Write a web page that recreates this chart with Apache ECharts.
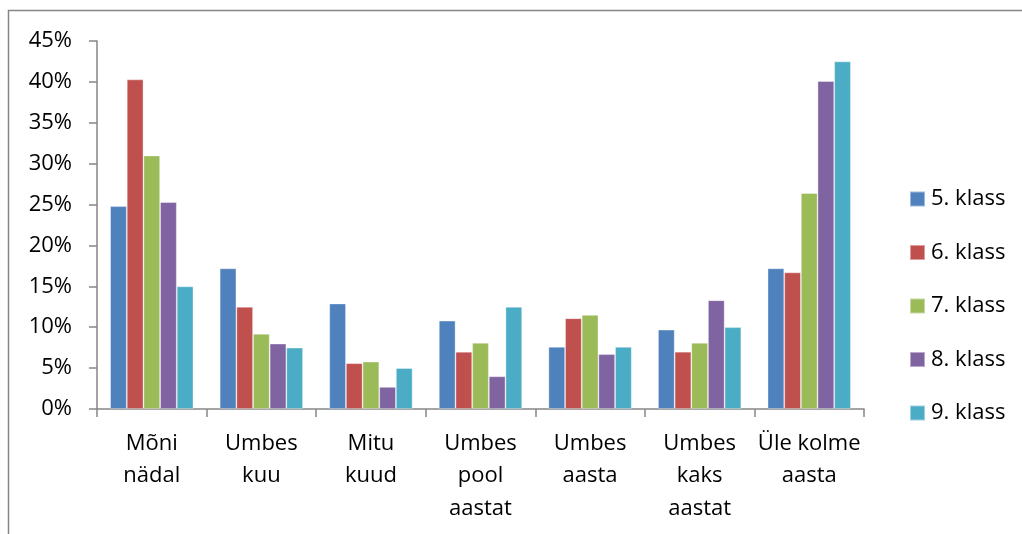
<!DOCTYPE html>
<html>
<head>
<meta charset="utf-8">
<script src="https://cdn.jsdelivr.net/npm/echarts@6/dist/echarts.min.js"></script>
<style>
html,body{margin:0;padding:0;background:#fff;}
#c{width:1022px;height:534px;}
</style>
</head>
<body>
<div id="c"></div>
<script>
const categories = ["Mõni\nnädal", "Umbes\nkuu", "Mitu\nkuud", "Umbes\npool\naastat", "Umbes\naasta", "Umbes\nkaks\naastat", "Üle kolme\naasta"];
const seriesNames = ["5. klass", "6. klass", "7. klass", "8. klass", "9. klass"];
const klass5 = [24.8, 17.2, 12.9, 10.8, 7.6, 9.7, 17.2];
const klass6 = [40.3, 12.5, 5.6, 7.0, 11.1, 7.0, 16.7];
const klass7 = [31.0, 9.2, 5.8, 8.1, 11.5, 8.1, 26.4];
const klass8 = [25.3, 8.0, 2.7, 4.0, 6.7, 13.3, 40.1];
const klass9 = [15.0, 7.5, 5.0, 12.5, 7.6, 10.0, 42.5];
const yTicks = [0, 5, 10, 15, 20, 25, 30, 35, 40, 45];

const values = [klass5, klass6, klass7, klass8, klass9];
const colors = ["#4F81BD", "#C0504D", "#9BBB59", "#8064A2", "#4BACC6"];
const font = "'Open Sans', sans-serif";

const chart = echarts.init(document.getElementById('c'));
chart.setOption({
  animation: false,
  backgroundColor: '#fff',
  graphic: [{
    type: 'rect',
    shape: {x: 8.5, y: 10.5, width: 1100, height: 600},
    style: {fill: 'none', stroke: '#868686', lineWidth: 1.5},
    silent: true
  }],
  grid: {left: 97, right: 158, top: 41, bottom: 125, containLabel: false},
  legend: {
    orient: 'vertical',
    left: 904,
    top: 183,
    itemWidth: 15,
    itemHeight: 15,
    itemGap: 31.5,
    icon: 'rect',
    data: seriesNames,
    textStyle: {fontFamily: font, fontSize: 22, color: '#000', padding: [0, 0, 0, 1]}
  },
  xAxis: {
    type: 'category',
    data: categories,
    axisLine: {lineStyle: {color: '#868686', width: 1.5}},
    axisTick: {show: true, length: 8, lineStyle: {color: '#868686', width: 1.5}},
    axisLabel: {
      interval: 0, margin: 18, color: '#000',
      fontFamily: font, fontSize: 22, lineHeight: 32.5
    }
  },
  yAxis: {
    type: 'value',
    min: 0, max: 45, interval: 5,
    axisLine: {show: true, lineStyle: {color: '#868686', width: 1.5}},
    axisTick: {show: true, length: 8, lineStyle: {color: '#868686', width: 1.5}},
    splitLine: {show: false},
    axisLabel: {
      margin: 25, color: '#000', fontFamily: font, fontSize: 22,
      formatter: v => yTicks.includes(v) ? v + '%' : ''
    }
  },
  series: seriesNames.map((n, i) => ({
    name: n,
    type: 'bar',
    data: values[i],
    barGap: '0%',
    barCategoryGap: '24%',
    itemStyle: {color: colors[i], borderColor: 'rgba(255,255,255,0.45)', borderWidth: 0.8}
  }))
});
</script>
</body>
</html>
